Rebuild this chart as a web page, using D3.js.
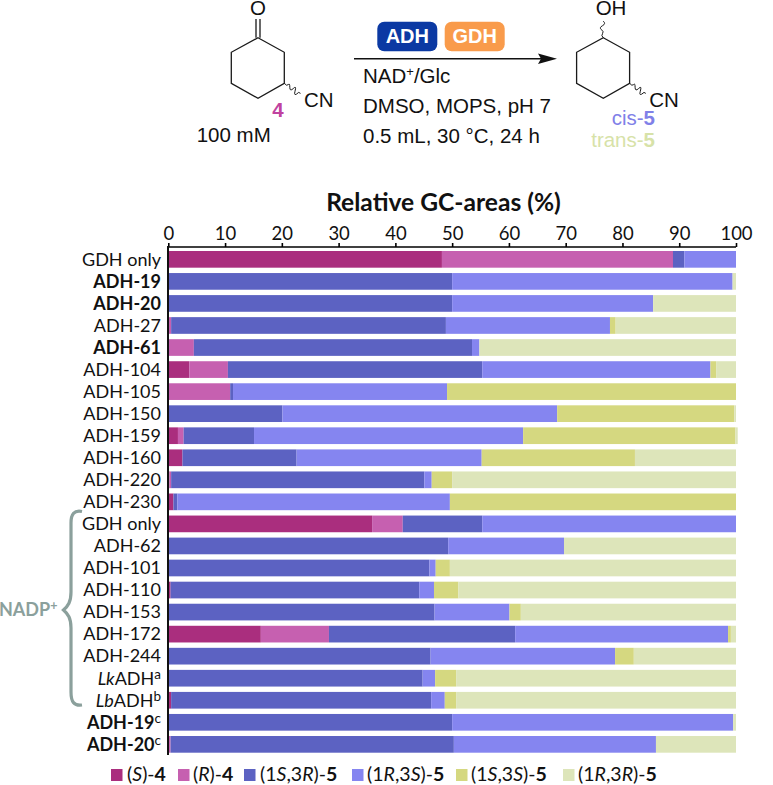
<!DOCTYPE html>
<html><head><meta charset="utf-8">
<script src="https://cdn.jsdelivr.net/npm/d3@7/dist/d3.min.js"></script>
<style>html,body{margin:0;padding:0;background:#fff}svg{display:block}</style>
</head><body><svg id="c" width="773" height="785"></svg>
<script>
const categories = ["GDH only","ADH-19","ADH-20","ADH-27","ADH-61","ADH-104","ADH-105","ADH-150","ADH-159","ADH-160","ADH-220","ADH-230","GDH only","ADH-62","ADH-101","ADH-110","ADH-153","ADH-172","ADH-244","LkADH","LbADH","ADH-19","ADH-20"];
const boldRows = [1,2,4,21,22];
const supers = {19:"a",20:"b",21:"c",22:"c"};
const italicPrefix = {19:"Lk",20:"Lb"};
const seriesNames = ["(S)-4","(R)-4","(1S,3R)-5","(1R,3S)-5","(1S,3S)-5","(1R,3R)-5"];
const colors = ["#aa2e7e","#c660b0","#5c62c2","#8585f0","#d5d880","#dde5ba"];
const valS =      [48.2,0,0,0,0,3.7,0,0,1.7,2.5,0.2,0.9,35.9,0,0,0.4,0,16.3,0,0,0.5,0,0];
const valR =      [40.7,0,0,0.5,4.5,6.8,10.9,0,1.0,0,0.3,0,5.4,0,0,0,0,12.0,0,0,0,0,0.4];
const val1S3R =   [2.0,50.0,50.0,48.4,49.0,44.8,0.5,20.1,12.4,20.1,44.6,0.7,14.0,49.3,46.0,43.8,46.9,32.8,46.2,44.8,45.8,50.0,49.9];
const val1R3S =   [9.1,49.4,35.4,28.9,1.3,40.2,37.7,48.4,47.4,32.6,1.3,48.0,44.7,20.4,1.1,2.6,13.2,37.5,32.5,2.2,2.4,49.5,35.6];
const val1S3S =   [0,0,0,1.0,0,1.0,50.9,31.2,37.4,27.0,3.6,50.4,0,0,2.5,4.3,2.0,0.5,3.3,3.7,2.0,0,0];
const val1R3R =   [0,0.6,14.6,21.2,45.2,3.5,0,0.3,0.4,17.8,50.0,0,0,30.3,50.4,48.9,37.9,0.9,18.0,49.3,49.3,0.5,14.1];
const xTicks = [0,10,20,30,40,50,60,70,80,90,100];
const seriesVals = [valS,valR,val1S3R,val1R3S,val1S3S,val1R3R];

const svg = d3.select("#c");
const chartFont = "Lato, 'Open Sans', sans-serif", schemeFont = "'Liberation Sans', Arial, sans-serif";
const x = d3.scaleLinear().domain([0,100]).range([168.3,736]);
const y = d3.scaleBand().domain(d3.range(categories.length)).range([251,752.7]).paddingInner(0.243).paddingOuter(0);

// stacked bars
const stacked = d3.stack().keys(d3.range(6)).value((i,k)=>seriesVals[k][i])(d3.range(categories.length));
svg.append("g").selectAll("g").data(stacked).join("g").attr("fill",(d,i)=>colors[i])
  .selectAll("rect").data(d=>d.map(v=>({v}))).join("rect")
  .attr("x",d=>x(d.v[0])).attr("width",d=>Math.max(0,x(d.v[1])-x(d.v[0])))
  .attr("y",d=>y(d.v.data)).attr("height",y.bandwidth());

// x axis
const ax = svg.append("g").attr("transform","translate(0,247)").call(d3.axisTop(x).tickValues(xTicks).tickSize(4).tickPadding(3));
ax.selectAll("path,line").attr("stroke","#000").attr("stroke-width",1.6);
ax.select("path").attr("d","M168,0H736");
ax.selectAll("text").attr("font-family",chartFont).attr("font-size",18.5).attr("fill","#111");
svg.append("line").attr("x1",168).attr("x2",168).attr("y1",246).attr("y2",755).attr("stroke","#111").attr("stroke-width",2);

svg.append("text").text("Relative GC-areas (%)").attr("x",443.5).attr("y",211).attr("text-anchor","middle")
  .attr("font-family",chartFont).attr("font-weight",700).attr("font-size",24.6).attr("fill","#111");

// row labels
const lab = svg.append("g").attr("font-family",chartFont).attr("font-size",18).attr("fill","#111");
categories.forEach((c,i)=>{
  const t = lab.append("text").attr("x",161).attr("y",y(i)+y.bandwidth()/2+6.3).attr("text-anchor","end")
    .attr("font-weight",boldRows.includes(i)?700:400);
  const pre = italicPrefix[i];
  if(pre){ t.append("tspan").attr("font-style","italic").text(pre); t.append("tspan").text(c.slice(pre.length)); }
  else t.append("tspan").text(c);
  if(supers[i]) t.append("tspan").attr("font-size",13.5).attr("font-weight",400).attr("dy",-6).text(supers[i]);
});

// NADP+ brace
svg.append("path").attr("d","M82,511.5C74,510 71,514 71,523V592C71,602 68,606 63.5,610C68,614 71,618 71,628V692C71,702 74,706 82,705")
  .attr("fill","none").attr("stroke","#8ba09c").attr("stroke-width",3.2);
const nadp = svg.append("text").attr("x",-1).attr("y",616).attr("font-family",chartFont).attr("font-weight",700).attr("font-size",18).attr("fill","#8ba09c");
nadp.append("tspan").text("NADP");
nadp.append("tspan").attr("font-size",12.5).attr("dy",-6).text("+");

// legend
const legX = [111,178,244,352,456,563], legT = [127,193,260,367,471,578];
const leg = svg.append("g").attr("font-family",chartFont).attr("font-size",19.5).attr("fill","#111");
seriesNames.forEach((n,i)=>{
  leg.append("rect").attr("x",legX[i]).attr("y",769).attr("width",11.5).attr("height",12).attr("fill",colors[i]);
  const t = leg.append("text").attr("x",legT[i]).attr("y",781);
  const m = n.match(/^\((.*)\)-(\d)$/);
  t.append("tspan").text("(");
  m[1].split(/([SR])/).filter(s=>s).forEach(s=>{
    const sp=t.append("tspan").text(s); if(/[SR]/.test(s)) sp.attr("font-style","italic");
  });
  t.append("tspan").text(")-");
  t.append("tspan").attr("font-weight",700).text(m[2]);
});

// reaction scheme
const sch = svg.append("g").attr("font-family",schemeFont).attr("font-size",20.5).attr("fill","#111");
const bondW = 1.3, bondC = "#1a1a1a";
function ring(dx){
  sch.append("path").attr("d",`M${258+dx},37.7L${284.3+dx},52.3V83.3L${258+dx},98.3L${231.3+dx},83.3V52.3Z`).attr("fill","none").attr("stroke",bondC).attr("stroke-width",bondW);
  sch.append("path").attr("d",`M${284.3+dx},83.3q2.5,3.2 4,1.3t1.5,2.7t3.5,1.2t1.7,2.7t3.7,1.2l1.8,1`).attr("fill","none").attr("stroke",bondC).attr("stroke-width",1);
  sch.append("text").attr("x",304+dx).attr("y",106.7).text("CN");
}
ring(0); ring(345.3);
sch.append("path").attr("d","M256,37.7V19M260,37.7V19").attr("stroke",bondC).attr("stroke-width",bondW).attr("fill","none");
sch.append("text").attr("x",258).attr("y",15).attr("text-anchor","middle").text("O");
sch.append("path").attr("d","M603.3,37.7q-2.5,-2 -0.8,-4t-1,-4t1,-4t0.8,-4.5").attr("fill","none").attr("stroke",bondC).attr("stroke-width",1);
sch.append("text").attr("x",611).attr("y",15).attr("text-anchor","middle").text("OH");
sch.append("text").attr("x",278).attr("y",116.7).attr("text-anchor","middle").attr("font-weight",700).attr("fill","#c0429f").text("4");
sch.append("text").attr("x",196.7).attr("y",141.7).text("100 mM");
sch.append("line").attr("x1",354).attr("x2",542).attr("y1",58.7).attr("y2",58.7).attr("stroke","#111").attr("stroke-width",1.4);
sch.append("path").attr("d","M557,58.7L538,53.5L541,58.7L538,63.9Z").attr("fill","#111");
sch.append("rect").attr("x",377.3).attr("y",21.7).attr("width",60).attr("height",29.5).attr("rx",7).attr("fill","#0b39a3");
sch.append("rect").attr("x",444.7).attr("y",21.7).attr("width",60).attr("height",29.5).attr("rx",7).attr("fill","#f99b4b");
sch.append("text").attr("x",407.3).attr("y",43).attr("text-anchor","middle").attr("font-size",20).attr("font-weight",700).attr("fill","#fff").text("ADH");
sch.append("text").attr("x",474.7).attr("y",43).attr("text-anchor","middle").attr("font-size",20).attr("font-weight",700).attr("fill","#fff").text("GDH");
const nad = sch.append("text").attr("x",363).attr("y",83.3);
nad.append("tspan").text("NAD");nad.append("tspan").attr("font-size",13).attr("dy",-7).text("+");nad.append("tspan").attr("dy",7).text("/Glc");
sch.append("text").attr("x",363).attr("y",113.3).text("DMSO, MOPS, pH 7");
sch.append("text").attr("x",363).attr("y",143.3).text("0.5 mL, 30 °C, 24 h");
const cis = sch.append("text").attr("x",655).attr("y",125).attr("text-anchor","end").attr("fill","#8080e8");
cis.append("tspan").text("cis-");cis.append("tspan").attr("font-weight",700).text("5");
const tr = sch.append("text").attr("x",655).attr("y",146.7).attr("text-anchor","end").attr("fill","#d7e2a8");
tr.append("tspan").text("trans-");tr.append("tspan").attr("font-weight",700).text("5");
</script></body></html>
